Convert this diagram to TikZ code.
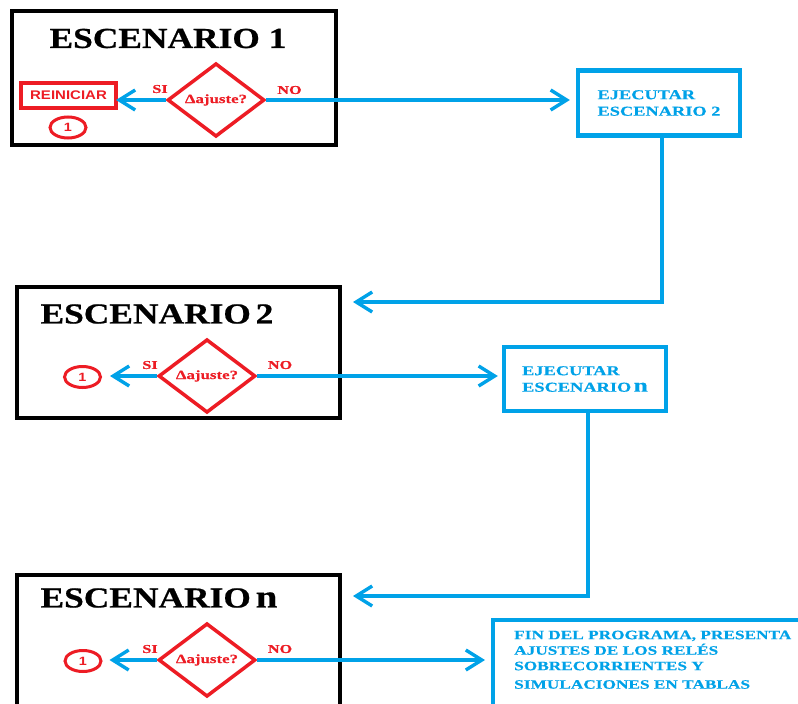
\documentclass[tikz,border=0pt]{standalone}
\usepackage{fontspec}
\setmainfont{Liberation Serif}
\newfontfamily\titlefont[FakeStretch=1.22,FakeBold=0.6]{Liberation Serif}
\newfontfamily\widefont[FakeStretch=1.35,FakeBold=0.4]{Liberation Serif}
\newfontfamily\rsans[FakeStretch=1.2]{Liberation Sans}
\usetikzlibrary{shapes.geometric,arrows.meta}
\definecolor{myblue}{RGB}{0,162,232}
\definecolor{myred}{RGB}{237,28,36}
\begin{document}
\begin{tikzpicture}[x=1pt,y=-1pt,
  scenbox/.style={draw=black, line width=4.5pt, rectangle, inner sep=0pt},
  titletext/.style={font=\titlefont\bfseries\fontsize{29}{30}\selectfont, inner sep=0pt},
  decision/.style={diamond, draw=myred, line width=3.5pt, inner sep=0pt,
    minimum width=97pt, minimum height=73pt, text=myred,
    font=\widefont\bfseries\fontsize{12.5}{13}\selectfont},
  restart/.style={draw=myred, line width=4pt, rectangle, inner sep=0pt,
    minimum width=95pt, minimum height=25pt, text=myred,
    font=\rsans\bfseries\fontsize{12.5}{13}\selectfont},
  conn/.style={ellipse, draw=myred, line width=3pt, inner sep=0pt,
    minimum width=36pt, minimum height=21pt, text=myred,
    font=\rsans\bfseries\fontsize{12}{12}\selectfont},
  lbl/.style={text=myred, inner sep=0pt, font=\widefont\bfseries\fontsize{12}{12}\selectfont},
  execbox/.style={draw=myblue, line width=4.3pt, rectangle, inner sep=0pt,
    minimum width=162pt, minimum height=65pt, text=myblue, align=left,
    font=\widefont\bfseries\fontsize{13.6}{16.5}\selectfont},
  finaltext/.style={text=myblue, inner sep=0pt, align=left,
    font=\widefont\bfseries\fontsize{12.8}{15.5}\selectfont},
  bluearrow/.style={draw=myblue, line width=3.4pt, -{Straight Barb[length=16pt,width=20pt]}},
]
\useasboundingbox (0,0) rectangle (798,704);
\clip (0,0) rectangle (798,704);
\fill[white] (0,0) rectangle (798,704);

% ---------- Escenario 1 ----------
\node[scenbox, minimum width=324pt, minimum height=134pt] (s1) at (174,78) {};
\node[titletext] (t1) at (168,38.5) {ESCENARIO 1};
\node[restart] (r1) at (68.5,95) {REINICIAR};
\node[conn] (c1) at (68,127.5) {1};
\node[decision] (d1) at (216,100) {Δajuste?};
\node[lbl] (si1) at (160,89) {SI};
\node[lbl] (no1) at (289.5,90) {NO};
\node[execbox] (e1) at (659,103) {EJECUTAR\\ESCENARIO 2};
\coordinate (in2) at (353,302);
\draw[bluearrow, shorten >=-2pt] (d1.west) -- (d1.west -| r1.east);
\draw[bluearrow, shorten >=6pt] (d1.east) -- (d1.east -| e1.west);
\draw[bluearrow] ([xshift=3pt]e1.south) |- (in2);

% ---------- Escenario 2 ----------
\node[scenbox, minimum width=323pt, minimum height=131pt] (s2) at (178.5,352.5) {};
\node[titletext] (t2) at (157,314) {ESCENARIO\,2};
\node[conn] (c2) at (82.5,377) {1};
\node[decision] (d2) at (207,376) {Δajuste?};
\node[lbl] (si2) at (150,365) {SI};
\node[lbl] (no2) at (280,365) {NO};
\node[execbox, minimum height=64pt] (e2) at (585,379) {EJECUTAR\\ESCENARIO\,{\fontsize{19}{16.5}\selectfont n}};
\coordinate (in3) at (353,596);
\draw[bluearrow, shorten >=8pt] (d2.west) -- (d2.west -| c2.east);
\draw[bluearrow, shorten >=4pt] (d2.east) -- (d2.east -| e2.west);
\draw[bluearrow] ([xshift=3pt]e2.south) |- (in3);

% ---------- Escenario n ----------
\node[scenbox, minimum width=323pt, minimum height=200pt] (s3) at (178.5,675) {};
\node[titletext] (t3) at (159,598) {ESCENARIO\,{\fontsize{32}{30}\selectfont n}};
\node[conn] (c3) at (83,661) {1};
\node[decision] (d3) at (207,660) {Δajuste?};
\node[lbl] (si3) at (150,649) {SI};
\node[lbl] (no3) at (280,649) {NO};
\node[draw=myblue, line width=4.3pt, rectangle, minimum width=340pt, minimum height=130pt, anchor=north west] (f) at (491,618) {};
\node[finaltext, anchor=north west] (ft) at (514,630.5)
  {FIN DEL PROGRAMA, PRESENTA\\AJUSTES DE LOS RELÉS\\SOBRECORRIENTES Y\\[3pt]SIMULACIONES EN TABLAS};
\draw[bluearrow, shorten >=7pt] (d3.west) -- (d3.west -| c3.east);
\draw[bluearrow, shorten >=6pt] (d3.east) -- (d3.east -| f.west);
\end{tikzpicture}
\end{document}
